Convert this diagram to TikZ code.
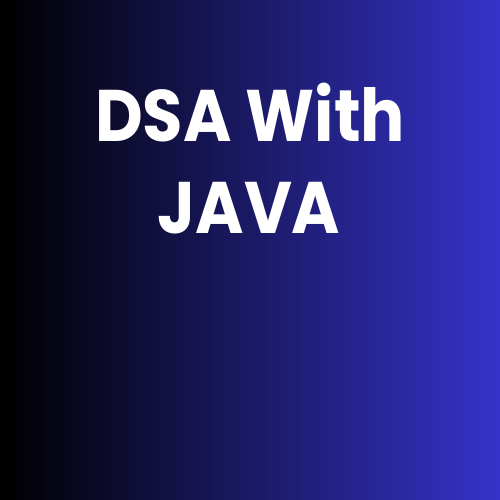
\documentclass[tikz,border=0pt]{standalone}
\usepackage{fontspec}
\setmainfont{Poppins}[FakeStretch=0.9]
\definecolor{bgblue}{RGB}{53,51,201}
\begin{document}
\begin{tikzpicture}[x=1pt,y=1pt,
  title/.style={text=white,font=\fontsize{73}{88}\selectfont\bfseries,anchor=base,inner sep=0pt}]
\useasboundingbox (0,0) rectangle (500,500);
\shade[left color=black,right color=bgblue] (0,0) rectangle (500,500);
\node[title] (l1) at (250,358) {DSA With};
\node[title] (l2) at (249,266) {JAVA};
\end{tikzpicture}
\end{document}
